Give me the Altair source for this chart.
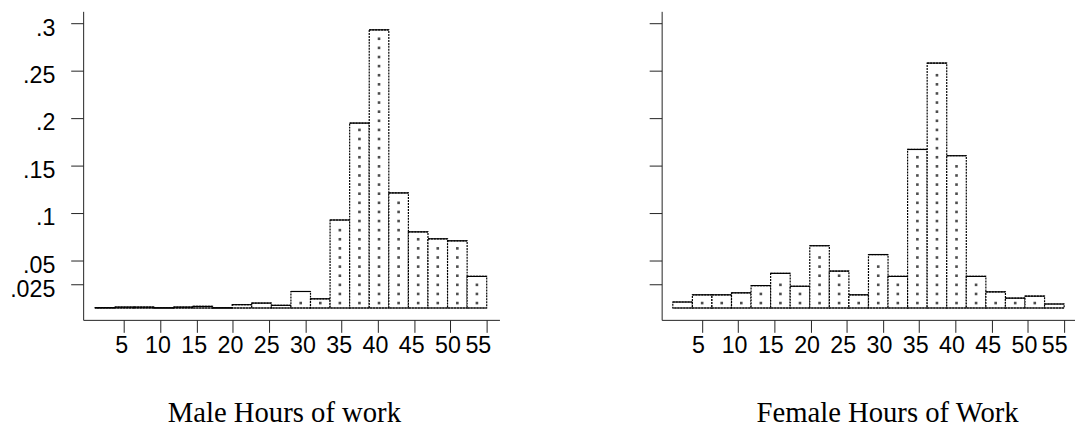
import altair as alt
import pandas as pd

# bin edges (hours of work), 20 bins
bin_edges = [1.0, 3.7, 6.4, 9.1, 11.8, 14.5, 17.2, 19.9, 22.6, 25.3, 28.0,
             30.7, 33.4, 36.1, 38.8, 41.5, 44.2, 46.9, 49.6, 52.3, 55.0]
# densities
male = [0.0003, 0.0010, 0.0010, 0.0002, 0.0010, 0.0017, 0.0002, 0.0035, 0.0052, 0.0028,
        0.0174, 0.0097, 0.0927, 0.1948, 0.2930, 0.1212, 0.0802, 0.0729, 0.0708, 0.0333]
female = [0.0063, 0.0139, 0.0139, 0.0160, 0.0236, 0.0365, 0.0229, 0.0656, 0.0389, 0.0139,
          0.0563, 0.0333, 0.1670, 0.2580, 0.1604, 0.0333, 0.0170, 0.0104, 0.0125, 0.0042]

x_ticks = [5, 10, 15, 20, 25, 30, 35, 40, 45, 50, 55]
y_ticks = [0.025, 0.05, 0.1, 0.15, 0.2, 0.25, 0.3]
titles = ["Male Hours of work", "Female Hours of Work"]

# fill-pattern lattice (decoration)
dot_start = 0.0052
dot_step = 0.0096


def bars_table(vals):
    return pd.DataFrame({
        "lo": bin_edges[:-1],
        "hi": bin_edges[1:],
        "h": vals,
    })


def dots_table(vals):
    rows = []
    for i, v in enumerate(vals):
        cx = (bin_edges[i] + bin_edges[i + 1]) / 2
        k = 0
        while dot_start + dot_step * k < v - 0.004:
            rows.append({"cx": cx, "dy": dot_start + dot_step * k})
            k += 1
    return pd.DataFrame(rows, columns=["cx", "dy"])


def panel(vals, title, show_labels, xdom, width, title_x, x_label_offsets):
    xscale = alt.Scale(domain=xdom, nice=False, zero=False)
    yscale = alt.Scale(domain=[-0.0125, 0.3125], nice=False, zero=False)
    xaxis = alt.Axis(
        values=x_ticks, grid=False, tickSize=12.6, tickWidth=1, tickColor="#222",
        domainColor="#222", domainWidth=1,
        labelFont="Liberation Sans", labelFontSize=23.5, labelColor="black",
        labelPadding=1, labelFlush=False, labelOverlap=False,
        labelOffset={"condition": {"test": "datum.value == 55", "value": x_label_offsets[1]},
                     "value": x_label_offsets[0]},
        title=title, titleFont="Liberation Serif", titleFontSize=29,
        titleFontWeight="normal", titleColor="black", titleX=title_x, titleY=103,
        titleBaseline="alphabetic", titleAlign="center",
    )
    yaxis = alt.Axis(
        values=y_ticks, grid=False, tickSize=12.6, tickWidth=1, tickColor="#222",
        domainColor="#222", domainWidth=1, labels=show_labels,
        labelExpr="replace(toString(datum.value), '0.', '.')",
        labelFont="Liberation Sans", labelFontSize=23.5, labelColor="black",
        labelPadding=16, labelOffset=5, labelOverlap=False, labelFlush=False,
        title="",
    )
    bdf = bars_table(vals)
    ddf = dots_table(vals)

    rects = alt.Chart(bdf).mark_rect(
        fill="white", stroke="black", strokeWidth=1.2, strokeDash=[2, 1]
    ).encode(
        x=alt.X("lo:Q", scale=xscale, axis=xaxis),
        x2="hi:Q",
        y=alt.Y("h:Q", scale=yscale, axis=yaxis),
        y2=alt.datum(0),
    )
    tops = alt.Chart(bdf).mark_rule(color="black", strokeWidth=1.2).encode(
        x=alt.X("lo:Q", scale=xscale, axis=xaxis),
        x2="hi:Q",
        y=alt.Y("h:Q", scale=yscale, axis=yaxis),
    )
    base = alt.Chart(bdf).mark_rule(color="black", strokeWidth=1.2).encode(
        x=alt.X("min(lo):Q", scale=xscale, axis=xaxis),
        x2="max(hi):Q",
        y=alt.datum(0, scale=yscale, axis=yaxis),
    )
    dots = alt.Chart(ddf).mark_square(size=7, color="#3a3a3a", opacity=0.9).encode(
        x=alt.X("cx:Q", scale=xscale, axis=xaxis),
        y=alt.Y("dy:Q", scale=yscale, axis=yaxis),
    )
    return alt.layer(rects, dots, tops, base).properties(width=width, height=312)


left = panel(male, titles[0], True, [-0.65, 56.76], 421, 203, (-3, -9))
right = panel(female, titles[1], False, [-0.54, 56.5], 418, 228, (-4, -10))

chart = alt.hconcat(left, right, spacing=150).properties(
    padding={"left": 1, "top": 1, "right": 0, "bottom": 0},
    background="white",
).configure_view(stroke="transparent", strokeWidth=0)

chart.save("out.html", embed_options={"renderer": "svg", "actions": False})
